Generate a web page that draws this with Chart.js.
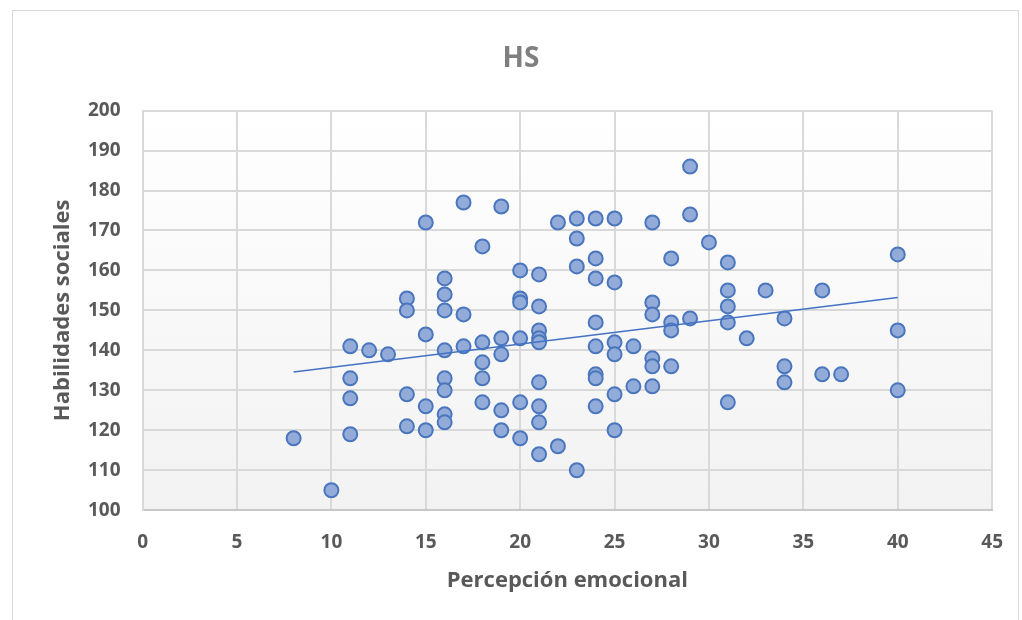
<!DOCTYPE html>
<html>
<head>
<meta charset="utf-8">
<script src="https://cdn.jsdelivr.net/npm/chart.js@4"></script>
<style>
  body { margin: 0; background: #fff; }
  #wrap { position: absolute; left: 12px; top: 10px; width: 1007px; height: 620px; border: 1px solid #d9d9d9; border-bottom: none; box-sizing: border-box; }
  canvas { position: absolute; left: 0; top: 0; }
</style>
</head>
<body>
<div id="wrap"><canvas id="hsChart" width="1011" height="610"></canvas></div>
<script>
  // Percepción emocional (x) y Habilidades sociales (y)
  const percepcion = [
    8, 10, 11, 11, 11, 11, 12, 13, 14, 14, 14, 14,
    15, 15, 15, 15, 16, 16, 16, 16, 16, 16, 16, 16,
    17, 17, 17, 18, 18, 18, 18, 18, 19, 19, 19, 19, 19,
    20, 20, 20, 20, 20, 20, 21, 21, 21, 21, 21, 21, 21, 21, 21,
    22, 22, 23, 23, 23, 23, 24, 24, 24, 24, 24, 24, 24, 24,
    25, 25, 25, 25, 25, 25, 26, 26, 27, 27, 27, 27, 27, 27,
    28, 28, 28, 28, 29, 29, 29, 30, 31, 31, 31, 31, 31,
    32, 33, 34, 34, 34, 36, 36, 37, 40, 40, 40
  ];
  const habilidades = [
    118, 105, 141, 133, 128, 119, 140, 139, 153, 150, 129, 121,
    172, 144, 126, 120, 158, 154, 150, 140, 133, 130, 124, 122,
    177, 149, 141, 166, 142, 137, 133, 127, 176, 143, 139, 125, 120,
    160, 153, 152, 143, 127, 118, 159, 151, 145, 143, 142, 132, 126, 122, 114,
    172, 116, 173, 168, 161, 110, 173, 163, 158, 147, 141, 134, 133, 126,
    173, 157, 142, 139, 129, 120, 141, 131, 172, 152, 149, 138, 136, 131,
    163, 147, 145, 136, 186, 174, 148, 167, 162, 155, 151, 147, 127,
    143, 155, 148, 136, 132, 155, 134, 134, 164, 145, 130
  ];
  // linea de tendencia (extremos)
  const tendenciaX = [8, 40];
  const tendenciaY = [134.6, 153.2];

  const xTicks = [0, 5, 10, 15, 20, 25, 30, 35, 40, 45];
  const yTicks = [100, 110, 120, 130, 140, 150, 160, 170, 180, 190, 200];

  const puntos = percepcion.map((x, i) => ({ x: x, y: habilidades[i] }));
  const tendencia = tendenciaX.map((x, i) => ({ x: x, y: tendenciaY[i] }));

  const plotBg = {
    id: 'plotBg',
    beforeDraw(chart) {
      const a = chart.chartArea, c = chart.ctx;
      const g = c.createLinearGradient(0, a.top, 0, a.bottom);
      g.addColorStop(0, '#ffffff');
      g.addColorStop(1, '#f2f2f2');
      c.save();
      c.fillStyle = g;
      c.fillRect(a.left, a.top, a.right - a.left, a.bottom - a.top);
      c.restore();
    }
  };

  const tickFont = { family: 'Open Sans', size: 19, weight: 'bold' };
  const titleFont = { family: 'Open Sans', size: 22, weight: 'bold', lineHeight: 1 };

  const ctx = document.getElementById('hsChart').getContext('2d');
  new Chart(ctx, {
    type: 'scatter',
    data: {
      datasets: [{
        label: 'HS',
        data: puntos,
        backgroundColor: '#92abd8',
        borderColor: '#4a76be',
        borderWidth: 2,
        pointRadius: 7,
        order: 2
      }, {
        label: 'Tendencia',
        data: tendencia,
        showLine: true,
        borderColor: '#4472c4',
        borderWidth: 1.5,
        pointRadius: 0,
        order: 1
      }]
    },
    options: {
      responsive: false,
      animation: false,
      layout: { padding: { left: 15, right: 10, top: 0, bottom: 29 } },
      plugins: {
        legend: { display: false },
        tooltip: { enabled: false },
        title: {
          display: true,
          text: 'HS',
          color: '#7f7f7f',
          font: { family: 'Open Sans', size: 28, weight: 'bold' },
          padding: { top: 31, bottom: 35 }
        }
      },
      scales: {
        x: {
          type: 'linear',
          min: 0,
          max: 45,
          afterBuildTicks: axis => { axis.ticks = xTicks.map(v => ({ value: v })); },
          grid: { color: '#d9d9d9', lineWidth: 2, drawTicks: false },
          border: { color: '#c8c8c8', width: 2 },
          ticks: { color: '#595959', font: tickFont, padding: 21 },
          title: { display: true, text: 'Percepción emocional', color: '#595959', font: titleFont, padding: { top: -5, bottom: 0 } }
        },
        y: {
          min: 100,
          max: 200,
          afterBuildTicks: axis => { axis.ticks = yTicks.map(v => ({ value: v })); },
          grid: { color: '#d9d9d9', lineWidth: 2, drawTicks: false },
          border: { color: '#d9d9d9', width: 2 },
          ticks: { color: '#595959', font: tickFont, padding: 22 },
          title: { display: true, text: 'Habilidades sociales', color: '#595959', font: titleFont, padding: { top: 24, bottom: -8 } }
        }
      }
    },
    plugins: [plotBg]
  });
</script>
</body>
</html>
